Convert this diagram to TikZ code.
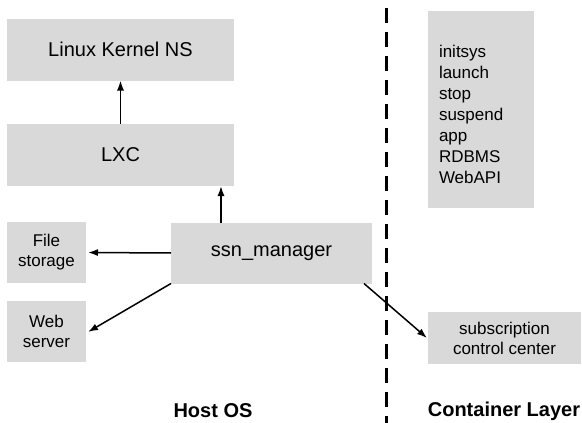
\documentclass[tikz,border=0pt]{standalone}
\usepackage{fontspec}
\setmainfont{Liberation Sans}
\usetikzlibrary{arrows.meta}
\definecolor{boxgray}{HTML}{D9D9D9}
\tikzstyle{block}=[fill=boxgray, inner sep=0, outer sep=0, align=center, font=\fontsize{17}{20}\selectfont]
\tikzstyle{wide}=[block, minimum width=227pt, minimum height=62pt, font=\fontsize{20}{24}\selectfont]
\tikzstyle{small}=[block, minimum width=79pt, minimum height=61pt]
\tikzstyle{link}=[line width=1.5pt, -{Latex[length=10pt,width=7pt]}]
\tikzstyle{layer}=[font=\fontsize{20}{24}\selectfont\bfseries]

\begin{document}
\begin{tikzpicture}[x=1pt, y=-1pt]
        \useasboundingbox (0, 0) rectangle (582, 423);
        % host side
        \node[wide] (kernel) at (120.5, 49.5) {Linux Kernel NS};
        \node[wide] (lxc) at (120.5, 155) {LXC};
        \node[block, minimum width=201pt, minimum height=61pt, font=\fontsize{20}{24}\selectfont] (ssn) at (271.5, 253) {ssn\_manager};
        \node[small] (files) at (46.5, 252.5) {File\\storage};
        \node[small] (web) at (46.5, 331) {Web\\server};
        \draw[link] (lxc.north) -- (kernel.south);
        \draw[link] ([xshift=50pt]ssn.north west) -- ([xshift=50pt]ssn.north west |- lxc.south);
        \draw[link] (ssn.west) -- ([xshift=2pt]files.east);
        \draw[link] (ssn.south west) -- ([xshift=2pt, yshift=-1pt]web.east);
        % container side
        \node[block, minimum width=106pt, minimum height=197pt, text width=84pt, align=left, font=\fontsize{17}{21}\selectfont] (cmds) at (481, 109.5) {\rule{0pt}{22pt}initsys\\launch\\stop\\suspend\\app\\RDBMS\\WebAPI};
        \node[block, minimum width=153pt, minimum height=52pt] (subcc) at (504.5, 338) {subscription\\control center};
        \draw[link] ([xshift=-8pt]ssn.south east) -- ([xshift=-1pt]subcc.west);
        % layer border
        \coordinate (divtop) at (386, 8);
        \coordinate (divbot) at (386, 423);
        \draw[line width=3pt, dash pattern=on 15pt off 9pt] (divtop) -- (divbot);
        \node[layer] (host) at (213, 411) {Host OS};
        \node[layer] (container) at (504, 411) {Container Layer};
    \end{tikzpicture}
\end{document}
